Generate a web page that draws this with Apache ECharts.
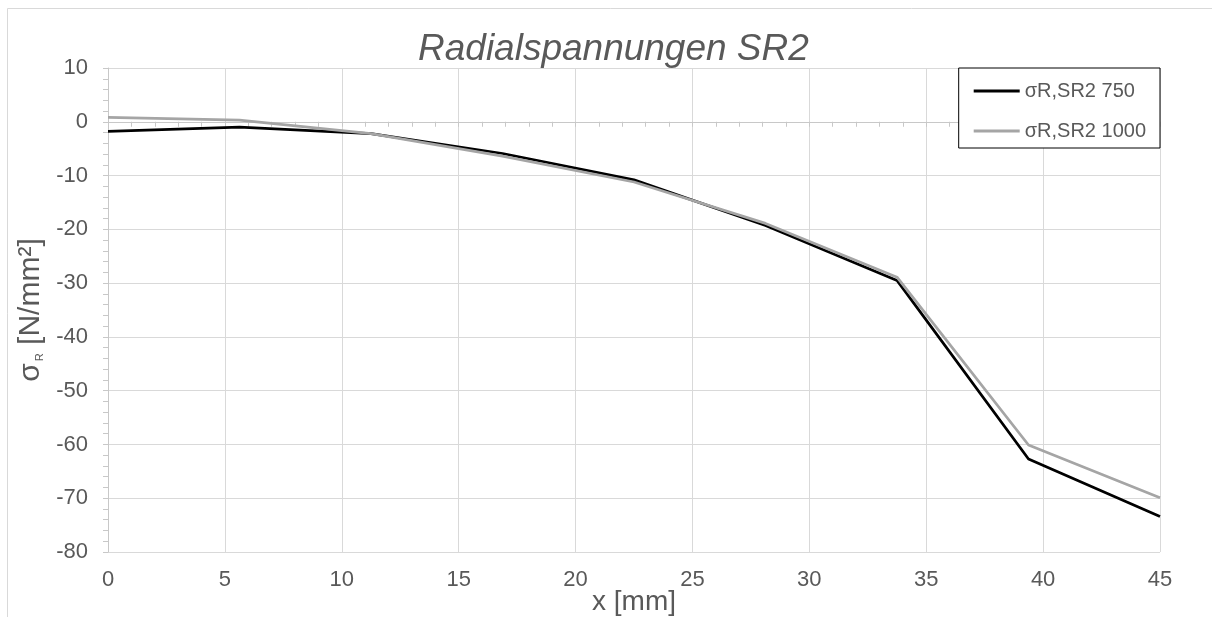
<!DOCTYPE html>
<html>
<head>
<meta charset="utf-8">
<style>
  html, body { margin: 0; padding: 0; background: #ffffff; }
  #chart { width: 1212px; height: 617px; }
</style>
<script src="https://cdn.jsdelivr.net/npm/echarts@6/dist/echarts.min.js"></script>
</head>
<body>
<div id="chart"></div>
<script>
// Radial position along the ring, x in mm
const xPositions = [0, 5.625, 11.25, 16.875, 22.5, 28.125, 33.75, 39.375, 45];
// Radial stress sigma_R in N/mm², load case 750
const stress750 = [-1.8, -1.0, -2.2, -5.9, -10.8, -19.3, -29.5, -62.7, -73.4];
// Radial stress sigma_R in N/mm², load case 1000
const stress1000 = [0.8, 0.3, -2.2, -6.4, -11.2, -18.9, -28.9, -60.1, -69.9];
const seriesNames = ['σR,SR2 750', 'σR,SR2 1000'];
const chartTitle = 'Radialspannungen SR2';
const xAxisName = 'x [mm]';

const FONT = '"Liberation Sans", Arial, sans-serif';
const TEXT = '#595959';

const toPairs = (ys) => xPositions.map((x, i) => [x, ys[i]]);

const chart = echarts.init(document.getElementById('chart'), null, { renderer: 'canvas' });

chart.setOption({
  backgroundColor: '#ffffff',
  animation: false,
  graphic: [{
    type: 'rect',
    z: -10,
    shape: { x: 7.5, y: 8.5, width: 1300, height: 700 },
    style: { fill: 'none', stroke: '#d9d9d9', lineWidth: 1 }
  }],
  title: {
    text: chartTitle,
    left: 418,
    top: 31,
    padding: 0,
    textStyle: { fontFamily: FONT, fontSize: 37, fontStyle: 'italic', fontWeight: 'normal', color: TEXT }
  },
  legend: {
    orient: 'vertical',
    right: 52,
    top: 68,
    padding: [13, 14, 7, 15],
    icon: 'rect',
    itemWidth: 46,
    itemHeight: 3,
    itemGap: 20,
    itemTextGap: 4,
    borderColor: '#000000',
    borderWidth: 1,
    backgroundColor: '#ffffff',
    textStyle: { fontFamily: FONT, fontSize: 20, lineHeight: 20, color: TEXT },
    data: seriesNames
  },
  grid: { left: 108, right: 52, top: 68, bottom: 65, containLabel: false, outerBoundsMode: 'none' },
  xAxis: {
    type: 'value',
    min: 0,
    max: 45,
    interval: 5,
    name: xAxisName,
    nameLocation: 'middle',
    nameGap: 36,
    nameMoveOverlap: false,
    nameTextStyle: { fontFamily: FONT, fontSize: 28, color: TEXT },
    axisLine: { show: true, lineStyle: { color: '#c8c8c8', width: 1 } },
    axisTick: { show: true, inside: false, length: 5, lineStyle: { color: '#c8c8c8' } },
    minorTick: { show: true, splitNumber: 5, length: 5, lineStyle: { color: '#c8c8c8' } },
    axisLabel: { fontFamily: FONT, fontSize: 22, color: TEXT, margin: 17 },
    splitLine: { show: true, lineStyle: { color: '#d9d9d9', width: 1 } }
  },
  yAxis: {
    type: 'value',
    min: -80,
    max: 10,
    interval: 10,
    name: '{a|σ}{b|R}{a| [N/mm²]}',
    nameLocation: 'middle',
    nameGap: 62,
    nameRotate: 90,
    nameMoveOverlap: false,
    nameTextStyle: {
      fontFamily: FONT, fontSize: 30, color: TEXT,
      rich: {
        a: { fontFamily: FONT, fontSize: 30, color: TEXT, lineHeight: 36, verticalAlign: 'bottom' },
        b: { fontFamily: FONT, fontSize: 11, color: TEXT, lineHeight: 36, verticalAlign: 'bottom', padding: [0, 0, 1, 2] }
      }
    },
    axisLine: { show: true, lineStyle: { color: '#c8c8c8', width: 1 } },
    axisTick: { show: true, inside: false, length: 5, lineStyle: { color: '#c8c8c8' } },
    minorTick: { show: true, splitNumber: 5, length: 5, lineStyle: { color: '#c8c8c8' } },
    axisLabel: { fontFamily: FONT, fontSize: 22, color: TEXT, margin: 20 },
    splitLine: { show: true, lineStyle: { color: '#d9d9d9', width: 1 } }
  },
  series: [
    {
      name: seriesNames[0],
      type: 'line',
      data: toPairs(stress750),
      symbol: 'none',
      showSymbol: false,
      lineStyle: { color: '#000000', width: 2.75 },
      itemStyle: { color: '#000000' }
    },
    {
      name: seriesNames[1],
      type: 'line',
      data: toPairs(stress1000),
      symbol: 'none',
      showSymbol: false,
      lineStyle: { color: '#a5a5a5', width: 2.75 },
      itemStyle: { color: '#a5a5a5' }
    }
  ]
});
</script>
</body>
</html>
